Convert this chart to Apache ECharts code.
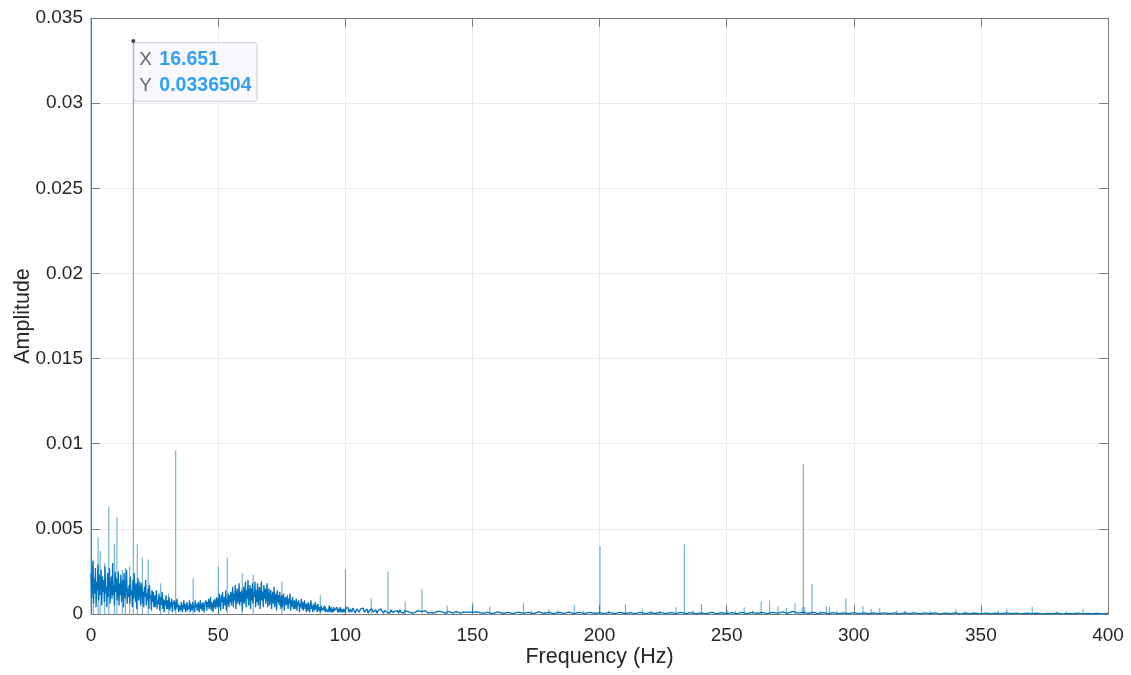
<!DOCTYPE html>
<html><head><meta charset="utf-8">
<script src="https://cdn.jsdelivr.net/npm/echarts@6/dist/echarts.min.js"></script>
<style>html,body{margin:0;padding:0;background:#fff}#c{width:1131px;height:675px}</style>
</head><body><div id="c"></div>
<script>
// ---- data ----
const xTickLabels = ['0','50','100','150','200','250','300','350','400'];
const yTickLabels = ['0','0.005','0.01','0.015','0.02','0.025','0.03','0.035'];

// noise floor amplitudes in units of 1e-4, 0 .. 100 Hz, 0.25 Hz bins
const noiseA = [
24,9,17,31,6,21,12,27,4,19,14,29,8,23,11,18,26,5,22,13,
20,7,28,12,16,4,24,10,19,27,6,15,22,9,30,11,17,5,25,13,
21,8,14,25,5,18,11,23,7,16,20,4,24,12,9,19,26,6,15,10,
17,6,22,11,14,4,20,9,24,13,7,18,3,16,21,8,12,19,5,15,
18,6,13,4,16,10,20,5,12,8,15,3,17,9,11,2,14,7,13,4,
11,4,9,14,3,8,6,12,2,10,5,7,13,3,9,1,8,5,11,3,
8,3,6,10,2,7,4,9,1,6,5,8,2,7,3,9,4,6,1,5,
6,2,7,4,1,5,8,3,6,1,4,7,2,5,3,8,1,6,4,2,
7,3,5,1,8,4,6,2,5,7,1,4,8,3,6,2,7,4,1,6,
5,8,2,7,4,9,3,6,10,2,7,5,1,8,4,9,3,6,10,4,
9,4,12,6,2,11,7,13,3,8,10,5,14,2,9,6,12,4,11,7,
13,5,10,16,4,12,8,17,3,11,15,6,9,18,5,13,7,14,2,10,
16,6,12,19,4,14,9,20,5,11,17,3,15,8,18,6,13,10,19,4,
14,7,18,5,12,16,3,11,19,8,13,4,17,9,15,6,12,18,4,10,
15,5,11,14,3,9,13,6,16,4,10,12,2,14,7,11,5,13,8,3,
11,4,9,12,2,8,10,5,7,11,3,9,6,12,2,8,4,10,6,3,
8,3,6,9,2,7,5,8,1,6,4,9,3,7,2,5,8,3,6,1,
6,2,7,4,1,5,8,3,5,1,6,4,2,7,3,5,1,6,2,4,
4,1,5,2,3,1,4,2,5,1,3,2,4,1,3,5,1,2,4,1,
3,1,4,2,1,3,2,4,1,3,1,2,4,1,3,2,1,3,1,2,
3
];
// noise floor in units of 1e-4, 100.5 .. 150 Hz, 0.5 Hz bins
const noiseB = [
2,4,1,3,1,3.5,2,0.5,3,2,1,3,2,3.5,1,2,3,0.5,2,1,
3,1,2,2.5,0.5,2,1,3,2,0.5,2,2.5,1,2,0.5,2.5,1,2,1.5,0.5,
2,0.5,2.5,1,1.5,0.5,2,1,1.5,2.5,1,2,0.5,1.5,1,0.5,2,1,1.5,0.5,
1.5,0.5,2,1,0.5,1.5,1,2,0.5,1.5,1,0.5,1.5,1,1.5,0.5,1,1.5,0.5,1,
1.5,0.5,1,1.5,0.5,1,1.5,0.5,1,1.5,0.5,1,1.2,0.4,1,0.5,1.2,0.4,1,0.5
];
// noise floor in units of 1e-4, 152 .. 400 Hz, 2 Hz bins
const noiseC = [
1.2,0.3,1.0,0.2,1.3,0.3,0.9,0.2,1.1,0.3,
1.0,0.2,1.2,0.3,0.9,0.2,1.0,0.3,1.1,0.2,
0.9,0.2,1.0,0.3,0.8,0.2,1.0,0.2,0.9,0.3,
0.8,0.2,0.9,0.2,0.8,0.3,0.9,0.2,0.8,0.2,
0.9,0.2,0.8,0.2,0.7,0.2,0.9,0.2,0.8,0.2,
0.8,0.2,0.9,0.2,1.0,0.3,0.9,0.2,1.0,0.3,
1.2,0.4,1.5,0.5,1.0,0.3,0.9,0.2,0.8,0.2,
0.8,0.2,0.7,0.2,0.8,0.2,0.7,0.2,0.7,0.2,
0.6,0.2,0.7,0.1,0.6,0.2,0.6,0.1,0.6,0.2,
0.6,0.1,0.5,0.2,0.6,0.1,0.5,0.2,0.5,0.1,
0.5,0.2,0.5,0.1,0.6,0.2,0.5,0.1,0.5,0.2,
0.5,0.1,0.4,0.2,0.5,0.1,0.4,0.2,0.5,0.1,
0.4,0.2,0.4,0.1,0.4
];
// narrow spectral lines: frequency (Hz) and amplitude
const spikeFreq = [0,0.9,2.8,3.6,5.4,7.0,9.2,10.2,12.3,13.5,15.2,16.651,18.2,20.2,22.5,27.4,30.5,33.3,40.2,50.1,53.6,59.5,63.8,75.1,90.2,
100.1,110.2,116.8,123.6,130.2,140.1,150.1,156.8,170.1,173.3,180.2,183.6,190.1,193.7,200.2,203.5,210.2,216.9,220.3,223.6,230.1,233.4,236.8,240.1,
250.2,253.5,256.9,260.2,263.6,266.9,270.2,273.5,276.9,279.7,280.2,280.7,283.6,286.9,289.2,290.4,293.5,296.9,303.6,306.9,310.2,316.9,320.2,330.2,
340.2,343.6,346.9,356.9,360.2,370.2,380.1,383.5,390.2];
const spikeAmp = [0.04,0.0032,0.0045,0.0037,0.0030,0.0063,0.0041,0.0057,0.0026,0.0027,0.0028,0.0336504,0.0041,0.0033,0.0032,0.0018,0.0012,0.0096,0.0021,0.0028,0.0033,0.0024,0.0023,0.0019,0.0011,
0.0026,0.00094,0.0025,0.00072,0.00147,0.00048,0.00066,0.00043,0.00066,0.0002,0.0003,0.00025,0.00053,0.0002,0.0040,0.0002,0.0006,0.0003,0.0002,0.0002,0.0004,0.0041,0.0002,0.0006,
0.0002,0.0002,0.0004,0.0002,0.00075,0.0008,0.00044,0.00035,0.00063,0.0004,0.0088,0.0004,0.00176,0.0002,0.00047,0.00043,0.0002,0.00092,0.00047,0.00029,0.00037,0.0002,0.0002,0.0002,
0.00028,0.00015,0.00015,0.0002,0.00033,0.00043,0.00015,0.00015,0.00031];
const peakX = 16.651, peakY = 0.0336504;

// ---- build series data ----
const U = 1e-4;
const noise = [];
noiseA.forEach((v,i)=>noise.push([i*0.25, v*U]));
noiseB.forEach((v,i)=>noise.push([100.5+i*0.5, v*U]));
noiseC.forEach((v,i)=>noise.push([152+2*i, v*U]));
const spikes = spikeFreq.map((f,i)=>[f, spikeAmp[i]]);

const FONT = 'Liberation Sans, Arial, sans-serif';
const AX = '#7d7d7d', TXT = '#262626', GRID = '#ebebeb';

function axisBase(extra){
  return Object.assign({
    type:'value',
    axisLine:{show:true,onZero:false,lineStyle:{color:AX,width:1}},
    axisTick:{show:true,inside:true,length:9,lineStyle:{color:AX,width:1}},
    splitLine:{show:false},
    axisLabel:{show:false}
  }, extra);
}

const chart = echarts.init(document.getElementById('c'), null, {renderer:'canvas'});
chart.setOption({
  animation:false,
  backgroundColor:'#ffffff',
  grid:{left:91,right:23,top:18,bottom:61,containLabel:false,outerBoundsMode:'none'},
  xAxis:[
    axisBase({min:0,max:400,interval:50,position:'bottom',
      splitLine:{show:true,lineStyle:{color:GRID,width:1}},
      axisLabel:{show:true,color:TXT,fontSize:19,fontFamily:FONT,margin:12,
        formatter:(v)=>xTickLabels[Math.round(v/50)]},
      name:'Frequency (Hz)',nameLocation:'middle',nameGap:32,nameMoveOverlap:false,
      nameTextStyle:{color:TXT,fontSize:21.5,fontFamily:FONT,verticalAlign:'top'}}),
    axisBase({min:0,max:400,interval:50,position:'top'})
  ],
  yAxis:[
    axisBase({min:0,max:0.035,interval:0.005,position:'left',
      splitLine:{show:true,lineStyle:{color:GRID,width:1}},
      axisLabel:{show:true,color:TXT,fontSize:19,fontFamily:FONT,margin:8,
        formatter:(v)=>yTickLabels[Math.round(v/0.005)]},
      name:'Amplitude',nameLocation:'middle',nameGap:57,nameRotate:90,nameMoveOverlap:false,
      nameTextStyle:{color:TXT,fontSize:21.5,fontFamily:FONT}}),
    axisBase({min:0,max:0.035,interval:0.005,position:'right'})
  ],
  series:[
    {type:'bar',data:spikes,barWidth:1.2,xAxisIndex:0,yAxisIndex:0,clip:true,
      itemStyle:{color:'rgba(0,114,189,0.55)'},z:2,silent:true},
    {type:'line',data:noise,symbol:'none',xAxisIndex:0,yAxisIndex:0,
      lineStyle:{color:'#0072BD',width:1.3},z:3,silent:true},
    {type:'scatter',data:[[peakX,peakY]],symbol:'circle',symbolSize:4,
      itemStyle:{color:'#111'},z:5,
      label:{show:true,position:[3,4],align:'left',verticalAlign:'top',
        backgroundColor:'#f8f8fc',borderColor:'#c9c9d0',borderWidth:1,borderRadius:3,
        padding:[4,5,2,5],
        formatter:()=>'{k|X}{v|'+peakX+'}\n{k|Y}{v|'+peakY+'}',
        rich:{k:{color:'#404040',fontSize:19,fontFamily:FONT,lineHeight:26,width:20},
              v:{color:'#0088ee',fontSize:19.5,fontWeight:'bold',fontFamily:FONT,lineHeight:26}}}}
  ]
});
</script></body></html>
